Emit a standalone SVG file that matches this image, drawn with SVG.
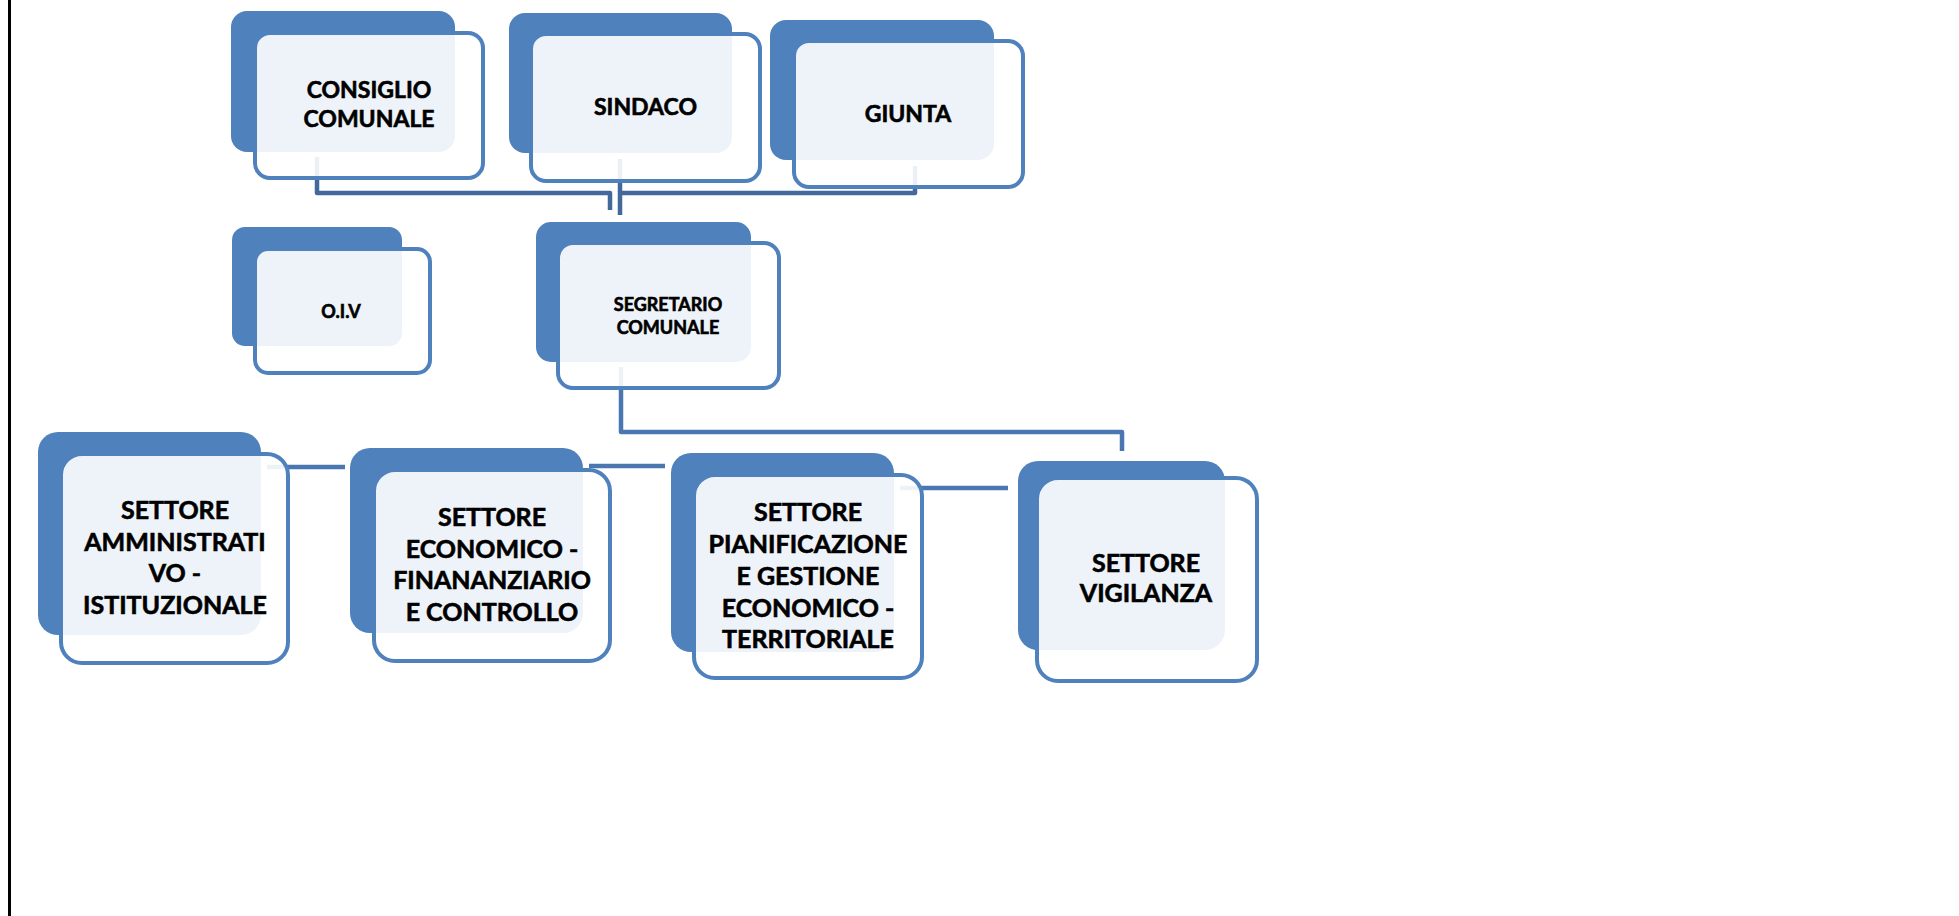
<svg xmlns="http://www.w3.org/2000/svg" width="1959" height="916" viewBox="0 0 1959 916">
<style>
.back{fill:#4f81bd;}
.front{fill:#ffffff;fill-opacity:0.9;stroke:#4f81bd;stroke-width:4;}
.conn{fill:none;stroke:#41699b;stroke-width:4.5;stroke-linejoin:round;}
.conn2{fill:none;stroke:#4a77b0;stroke-width:4.5;stroke-linejoin:round;}
text{font-family:Lato,"Liberation Sans",sans-serif;font-weight:bold;fill:#000;stroke:#000;stroke-width:0.6;text-anchor:middle;}
.t1{font-size:23px;}
.t2{font-size:18px;}
.t3{font-size:25px;}
</style>
<rect x="0" y="0" width="1959" height="916" fill="#ffffff"/>
<line x1="9.5" y1="0" x2="9.5" y2="916" stroke="#000" stroke-width="3"/>
<g id="connectors">
<path class="conn" d="M317,157 V193 H610 V210"/>
<path class="conn" d="M620,159 V215"/>
<path class="conn" d="M915,166 V193 H620"/>
<path class="conn2" d="M621,367 V432 H1122 V451"/>
<path class="conn2" d="M267,467 H345"/>
<path class="conn2" d="M589,466 H665"/>
<path class="conn2" d="M900,488 H1008"/>
</g>
<g id="consiglio">
<rect class="back" x="231" y="11" width="224" height="141" rx="16"/>
<rect class="front" x="255" y="33" width="228" height="145" rx="15"/>
<text class="t1" x="369" y="97.5">CONSIGLIO</text>
<text class="t1" x="369" y="126.5">COMUNALE</text>
</g>
<g id="sindaco">
<rect class="back" x="509" y="13" width="223" height="140" rx="16"/>
<rect class="front" x="531" y="34" width="229" height="147" rx="15"/>
<text class="t1" x="645.5" y="115">SINDACO</text>
</g>
<g id="giunta">
<rect class="back" x="770" y="20" width="224" height="140" rx="16"/>
<rect class="front" x="794" y="41" width="229" height="146" rx="15"/>
<text class="t1" x="908" y="121.5">GIUNTA</text>
</g>
<g id="oiv">
<rect class="back" x="232" y="227" width="170" height="119" rx="13"/>
<rect class="front" x="255" y="249" width="175" height="124" rx="13"/>
<text class="t2" x="341" y="318">O.I.V</text>
</g>
<g id="segretario">
<rect class="back" x="536" y="222" width="215" height="140" rx="15"/>
<rect class="front" x="558" y="243" width="221" height="145" rx="15"/>
<text class="t2" x="668" y="310.5">SEGRETARIO</text>
<text class="t2" x="668" y="333.5">COMUNALE</text>
</g>
<g id="amministrativo">
<rect class="back" x="38" y="432" width="223" height="203" rx="20"/>
<rect class="front" x="61" y="454" width="227" height="209" rx="21"/>
<text class="t3" x="175" y="519">SETTORE</text>
<text class="t3" x="175" y="550.5">AMMINISTRATI</text>
<text class="t3" x="175" y="582">VO -</text>
<text class="t3" x="175" y="613.5">ISTITUZIONALE</text>
</g>
<g id="economico">
<rect class="back" x="350" y="448" width="233" height="185" rx="20"/>
<rect class="front" x="374" y="470" width="236" height="191" rx="21"/>
<text class="t3" x="492" y="526">SETTORE</text>
<text class="t3" x="492" y="557.5">ECONOMICO -</text>
<text class="t3" x="492" y="589">FINANANZIARIO</text>
<text class="t3" x="492" y="621">E CONTROLLO</text>
</g>
<g id="pianificazione">
<rect class="back" x="671" y="453" width="223" height="199" rx="20"/>
<rect class="front" x="694" y="475" width="228" height="203" rx="21"/>
<text class="t3" x="808" y="521">SETTORE</text>
<text class="t3" x="808" y="553">PIANIFICAZIONE</text>
<text class="t3" x="808" y="585">E GESTIONE</text>
<text class="t3" x="808" y="617">ECONOMICO -</text>
<text class="t3" x="808" y="648">TERRITORIALE</text>
</g>
<g id="vigilanza">
<rect class="back" x="1018" y="461" width="207" height="189" rx="20"/>
<rect class="front" x="1037" y="478" width="220" height="203" rx="21"/>
<text class="t3" x="1146" y="572">SETTORE</text>
<text class="t3" x="1146" y="602">VIGILANZA</text>
</g>
</svg>
